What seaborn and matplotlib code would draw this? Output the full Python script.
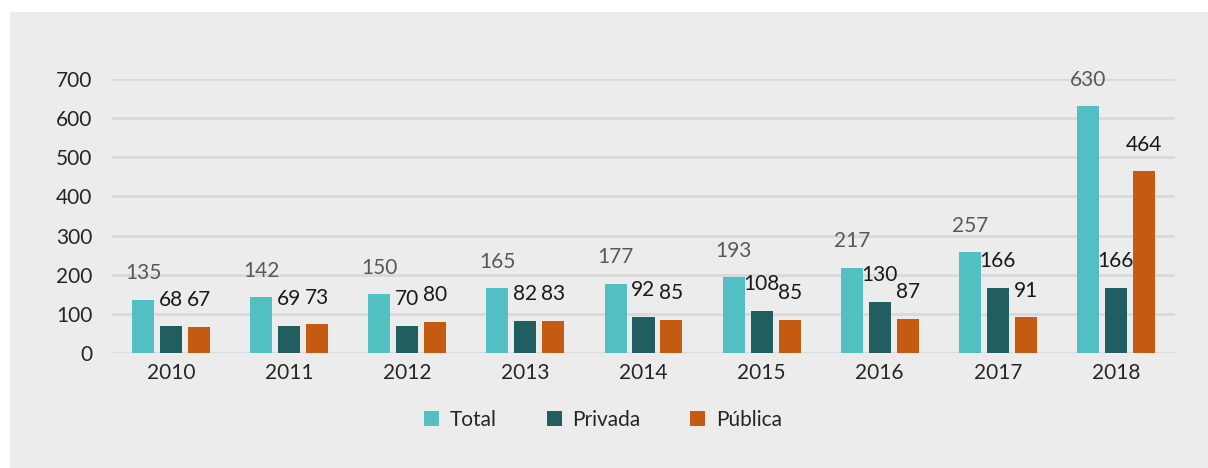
import pandas as pd
import numpy as np
import matplotlib.pyplot as plt
import seaborn as sns
from matplotlib.patches import Rectangle

anos = ["2010", "2011", "2012", "2013", "2014", "2015", "2016", "2017", "2018"]
total = [135, 142, 150, 165, 177, 193, 217, 257, 630]
privada = [68, 69, 70, 82, 92, 108, 130, 166, 166]
publica = [67, 73, 80, 83, 85, 85, 87, 91, 464]
series = ["Total", "Privada", "Pública"]
cores = ["#52c0c2", "#215e5f", "#c55a11"]

veri = pd.DataFrame({"ano": anos * 3,
                     "valor": total + privada + publica,
                     "tipo": [s for s in series for _ in anos]})

sns.set_style("white")
plt.rcParams["font.family"] = ["Lato", "DejaVu Sans"]

fig = plt.figure(figsize=(12.08, 4.68), dpi=100, facecolor="white")
# gray panel behind the chart
fig.patches.append(Rectangle((10 / 1208, 0), 1, 1 - 12 / 468, transform=fig.transFigure,
                             facecolor="#ececec", edgecolor="none", zorder=-10))
ax = fig.add_axes([112 / 1208, 1 - 353 / 468, (1175 - 112) / 1208, (353 - 79) / 468])
ax.set_facecolor("none")

sns.barplot(data=veri, x="ano", y="valor", hue="tipo", palette=cores, width=0.71,
            gap=0.21, ax=ax, linewidth=0, saturation=1, zorder=3)

fs = 15
rotulo_cor = ["#595959", "#1a1a1a", "#1a1a1a"]
for cont, c in zip(ax.containers, rotulo_cor):
    ax.bar_label(cont, padding=12, fontsize=fs, color=c)

ax.set_ylim(0, 700)
ax.set_yticks(range(0, 701, 100))
ax.grid(axis="y", color="#d9d9d9", linewidth=2, zorder=0)
ax.set_axisbelow(True)
for s in ax.spines.values():
    s.set_visible(False)
ax.tick_params(axis="both", length=0, labelsize=fs, colors="#262626")
ax.tick_params(axis="y", pad=14)
ax.tick_params(axis="x", pad=7)
ax.set_xlabel("")
ax.set_ylabel("")

ax.legend(loc="upper center", bbox_to_anchor=(0.462, -0.14), ncol=3, frameon=False,
          fontsize=fs, handlelength=0.72, handleheight=0.72, columnspacing=2.4,
          handletextpad=0.5)

plt.savefig("out.png", dpi=100, facecolor="white")
